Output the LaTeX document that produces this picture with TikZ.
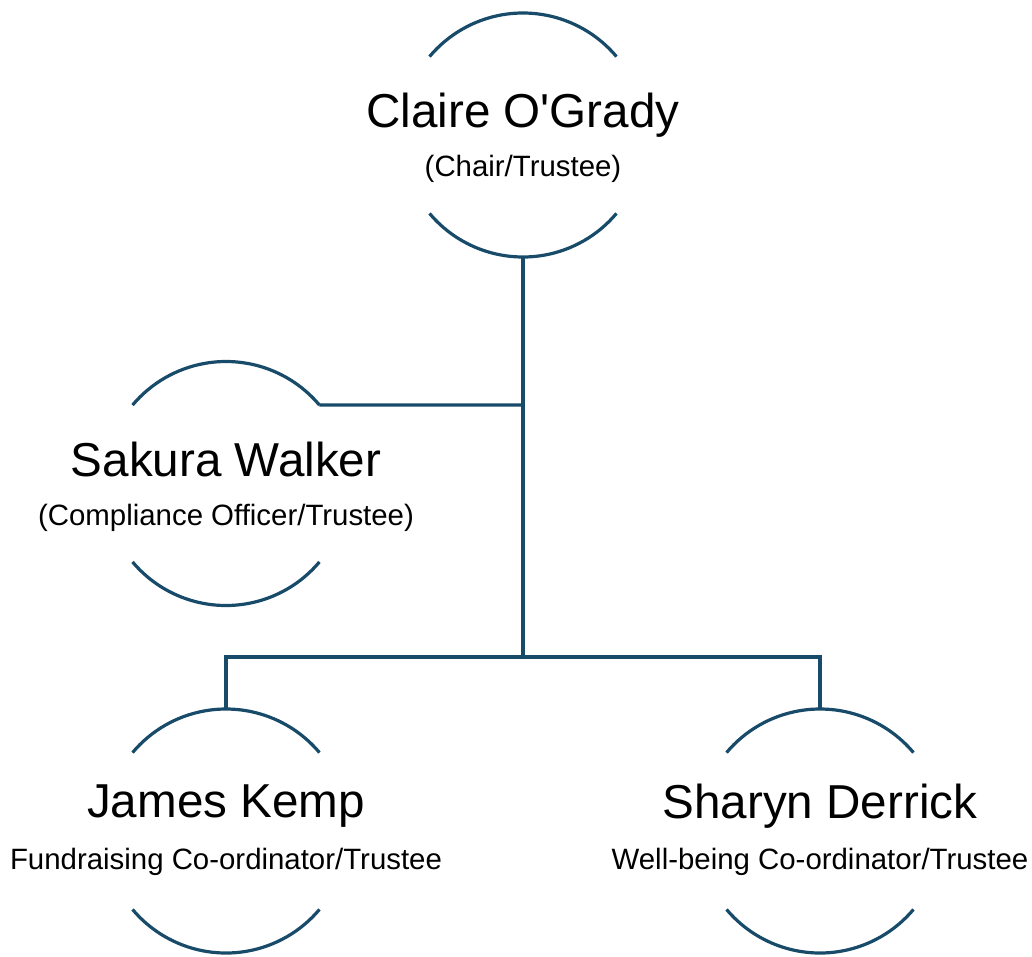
\documentclass[tikz,border=0pt]{standalone}
\usepackage{fontspec}
\setmainfont{Liberation Sans}
\definecolor{linec}{HTML}{174B69}
\begin{document}
\begin{tikzpicture}[x=1pt,y=-1pt,
  ring/.style={circle,minimum size=244pt,inner sep=0pt,outer sep=0pt},
  arcline/.style={draw=linec,line width=3.2pt},
  conn/.style={draw=linec,line width=3.2pt},
  namet/.style={anchor=base,inner sep=0pt,font=\fontsize{47.6}{50}\selectfont},
  rolet/.style={anchor=base,inner sep=0pt,font=\fontsize{29.4}{32}\selectfont}]
\useasboundingbox (0,0) rectangle (1032,956);
% rings
\node[ring] (claire) at (523,135) {};
\node[ring] (sakura) at (226,483.5) {};
\node[ring] (james) at (226,831) {};
\node[ring] (sharyn) at (820,831) {};
\foreach \n in {claire,sakura,james,sharyn}{
  \draw[arcline] (\n.40) arc[start angle=40,end angle=140,radius=122pt];
  \draw[arcline] (\n.220) arc[start angle=220,end angle=320,radius=122pt];
}
% texts
\node[namet] (claireN) at (523,127) {Claire O\textquotesingle Grady};
\node[rolet] (claireR) at (523,176) {(Chair/Trustee)};
\node[namet] (sakuraN) at (226,476) {Sakura Walker};
\node[rolet] (sakuraR) at (226,525) {(Compliance Officer/Trustee)};
\node[namet] (jamesN) at (226,817) {James Kemp};
\node[rolet] (jamesR) at (226,869) {Fundraising Co-ordinator/Trustee};
\node[namet] (sharynN) at (820,818) {Sharyn Derrick};
\node[rolet] (sharynR) at (820,869) {Well-being Co-ordinator/Trustee};
% connectors
\coordinate (jA) at (523,405);
\coordinate (jB) at (523,657);
\coordinate (jL) at (226,657);
\coordinate (jR) at (820,657);
\draw[conn] (claire.south) -- (jB);
\draw[conn] (sakura.40) -- (jA);
\draw[conn,line cap=rect] (jL) -- (jR);
\draw[conn] (jL) -- (james.north);
\draw[conn] (jR) -- (sharyn.north);
\end{tikzpicture}
\end{document}
